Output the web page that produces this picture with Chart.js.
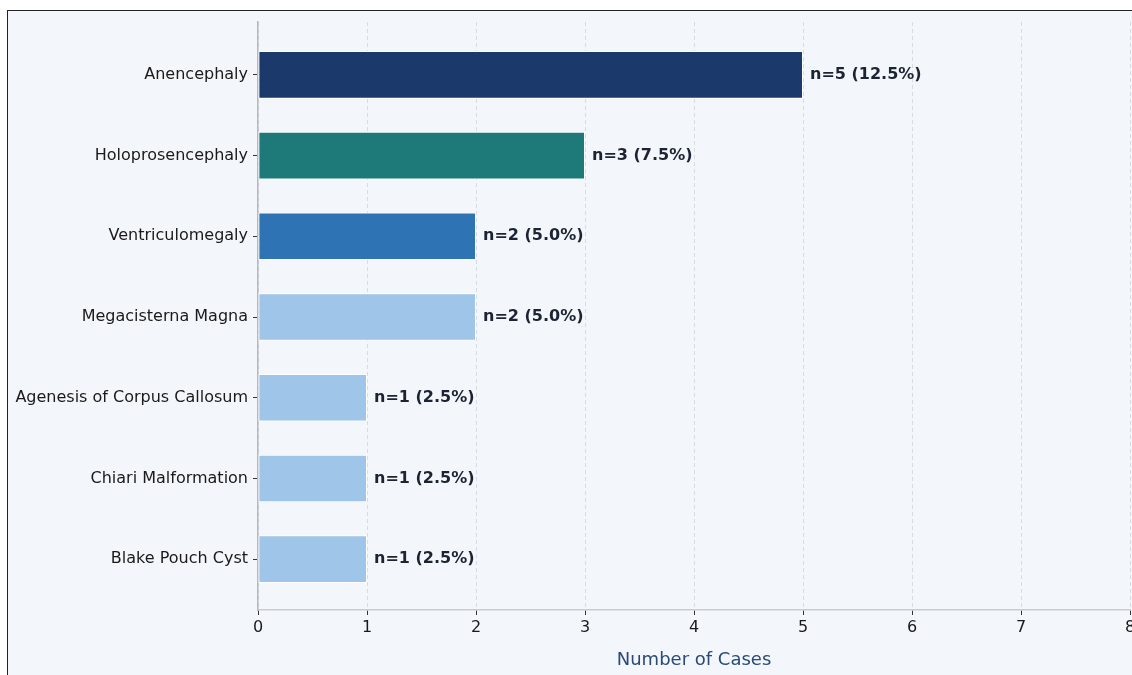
<!DOCTYPE html>
<html>
<head>
<meta charset="utf-8">
<script src="https://cdn.jsdelivr.net/npm/chart.js@4.4.1/dist/chart.umd.min.js"></script>
<style>
  html, body { margin: 0; padding: 0; background: #ffffff; overflow: hidden; width: 1132px; height: 675px; }
  #frame {
    position: absolute; left: 7px; top: 10px;
    width: 1180px; height: 690px;
    border: 1px solid #222;
    background: #f3f6fa;
  }
  canvas { display: block; }
</style>
</head>
<body>
<div id="frame"><canvas id="c" width="1180" height="690"></canvas></div>
<script>
// Malformation categories, top to bottom
const categories = [
  'Anencephaly',
  'Holoprosencephaly',
  'Ventriculomegaly',
  'Megacisterna Magna',
  'Agenesis of Corpus Callosum',
  'Chiari Malformation',
  'Blake Pouch Cyst'
];
// Number of cases per category
const cases = [5, 3, 2, 2, 1, 1, 1];
// Share of all cases (%)
const percents = [12.5, 7.5, 5.0, 5.0, 2.5, 2.5, 2.5];
const barColors = ['#1b3a6b', '#1d7a78', '#2e74b5', '#9fc5e8', '#9fc5e8', '#9fc5e8', '#9fc5e8'];
const xTicks = [0, 1, 2, 3, 4, 5, 6, 7, 8];

const FONT = "'DejaVu Sans', sans-serif";

const points = cases.map((v, i) => ({ x: v, y: i }));

// Writes "n=… (…%)" just past the end of each bar
const valueLabels = {
  id: 'valueLabels',
  afterDatasetsDraw(chart) {
    const ctx = chart.ctx;
    const meta = chart.getDatasetMeta(0);
    ctx.save();
    ctx.font = "bold 16px " + FONT;
    ctx.fillStyle = '#1c2333';
    ctx.textAlign = 'left';
    ctx.textBaseline = 'middle';
    meta.data.forEach((bar, i) => {
      const txt = 'n=' + cases[i] + ' (' + percents[i].toFixed(1) + '%)';
      ctx.fillText(txt, bar.x + 7, bar.y);
    });
    ctx.restore();
  }
};

new Chart(document.getElementById('c'), {
  type: 'bar',
  data: {
    datasets: [{
      data: points,
      backgroundColor: barColors,
      borderColor: '#ffffff',
      borderWidth: 1,
      borderSkipped: false,
      categoryPercentage: 1.0,
      barPercentage: 0.59
    }]
  },
  options: {
    indexAxis: 'y',
    responsive: false,
    animation: false,
    layout: { padding: { top: 11, right: 58, bottom: 30, left: 0 } },
    plugins: { legend: { display: false }, tooltip: { enabled: false } },
    scales: {
      x: {
        type: 'linear',
        min: 0, max: 8,
        afterBuildTicks(scale) { scale.ticks = xTicks.map(v => ({ value: v })); },
        afterFit(scale) { scale.height = 61; },
        border: { display: true, color: '#c9ccd0', width: 1.5, dash: [4, 3] },
        grid: {
          display: true,
          color: '#d0d4da',
          lineWidth: 0.8,
          drawTicks: true,
          tickLength: 5,
          tickColor: '#333',
          tickWidth: 1,
          tickBorderDash: []
        },
        ticks: {
          color: '#1a1a1a',
          font: { family: FONT, size: 16 },
          padding: 3
        },
        title: {
          display: true,
          text: 'Number of Cases',
          color: '#2b4a78',
          font: { family: FONT, size: 18 },
          padding: { top: 0, bottom: 0 }
        }
      },
      y: {
        type: 'linear',
        reverse: true,
        offset: false,
        min: -0.655,
        max: 6.63,
        afterBuildTicks(scale) { scale.ticks = categories.map((_, i) => ({ value: i })); },
        afterFit(scale) {
          scale.width = 250;
          // labels sit well inside the range, so no extra edge room is needed
          scale.paddingTop = 0;
          scale.paddingBottom = 0;
        },
        border: { display: true, color: '#b5b8bc', width: 1.5 },
        grid: {
          display: true,
          offset: false,
          drawOnChartArea: false,
          drawTicks: true,
          tickLength: 5,
          tickColor: '#333',
          tickWidth: 1
        },
        ticks: {
          color: '#1a1a1a',
          font: { family: FONT, size: 16 },
          padding: 5,
          callback: (v) => categories[v]
        }
      }
    }
  },
  plugins: [valueLabels]
});
</script>
</body>
</html>
